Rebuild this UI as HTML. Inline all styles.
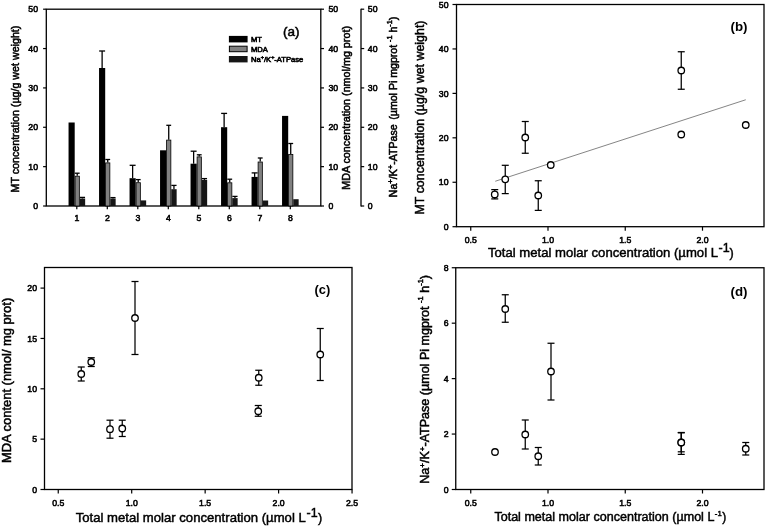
<!DOCTYPE html>
<html lang="en"><head><meta charset="utf-8"><title>Figure</title>
<style>
html,body{margin:0;padding:0;background:#fff;}
svg{display:block;font-family:'Liberation Sans', Arial, Helvetica, sans-serif;}
</style></head>
<body>
<svg width="767" height="527" viewBox="0 0 767 527">
<rect width="767" height="527" fill="#fff"/>
<g id="panel-a">
<rect x="46.3" y="9.2" width="274.50" height="196.80" fill="none" stroke="#000" stroke-width="1.3"/>
<line x1="43.10" y1="206.00" x2="46.30" y2="206.00" stroke="#000" stroke-width="1.2"/>
<text x="38.00" y="209.20" font-size="8.7" text-anchor="end" stroke="#000" stroke-width="0.55" textLength="4.84" lengthAdjust="spacingAndGlyphs">0</text>
<line x1="320.80" y1="206.00" x2="324.00" y2="206.00" stroke="#000" stroke-width="1.2"/>
<text x="328.40" y="209.20" font-size="8.7" text-anchor="start" stroke="#000" stroke-width="0.55" textLength="4.84" lengthAdjust="spacingAndGlyphs">0</text>
<line x1="361.00" y1="206.00" x2="364.20" y2="206.00" stroke="#000" stroke-width="1.2"/>
<text x="367.80" y="209.20" font-size="8.7" text-anchor="start" stroke="#000" stroke-width="0.55" textLength="4.84" lengthAdjust="spacingAndGlyphs">0</text>
<line x1="43.10" y1="166.64" x2="46.30" y2="166.64" stroke="#000" stroke-width="1.2"/>
<text x="38.00" y="169.84" font-size="8.7" text-anchor="end" stroke="#000" stroke-width="0.55" textLength="9.68" lengthAdjust="spacingAndGlyphs">10</text>
<line x1="320.80" y1="166.64" x2="324.00" y2="166.64" stroke="#000" stroke-width="1.2"/>
<text x="328.40" y="169.84" font-size="8.7" text-anchor="start" stroke="#000" stroke-width="0.55" textLength="9.68" lengthAdjust="spacingAndGlyphs">10</text>
<line x1="361.00" y1="166.64" x2="364.20" y2="166.64" stroke="#000" stroke-width="1.2"/>
<text x="367.80" y="169.84" font-size="8.7" text-anchor="start" stroke="#000" stroke-width="0.55" textLength="9.68" lengthAdjust="spacingAndGlyphs">10</text>
<line x1="43.10" y1="127.28" x2="46.30" y2="127.28" stroke="#000" stroke-width="1.2"/>
<text x="38.00" y="130.48" font-size="8.7" text-anchor="end" stroke="#000" stroke-width="0.55" textLength="9.68" lengthAdjust="spacingAndGlyphs">20</text>
<line x1="320.80" y1="127.28" x2="324.00" y2="127.28" stroke="#000" stroke-width="1.2"/>
<text x="328.40" y="130.48" font-size="8.7" text-anchor="start" stroke="#000" stroke-width="0.55" textLength="9.68" lengthAdjust="spacingAndGlyphs">20</text>
<line x1="361.00" y1="127.28" x2="364.20" y2="127.28" stroke="#000" stroke-width="1.2"/>
<text x="367.80" y="130.48" font-size="8.7" text-anchor="start" stroke="#000" stroke-width="0.55" textLength="9.68" lengthAdjust="spacingAndGlyphs">20</text>
<line x1="43.10" y1="87.92" x2="46.30" y2="87.92" stroke="#000" stroke-width="1.2"/>
<text x="38.00" y="91.12" font-size="8.7" text-anchor="end" stroke="#000" stroke-width="0.55" textLength="9.68" lengthAdjust="spacingAndGlyphs">30</text>
<line x1="320.80" y1="87.92" x2="324.00" y2="87.92" stroke="#000" stroke-width="1.2"/>
<text x="328.40" y="91.12" font-size="8.7" text-anchor="start" stroke="#000" stroke-width="0.55" textLength="9.68" lengthAdjust="spacingAndGlyphs">30</text>
<line x1="361.00" y1="87.92" x2="364.20" y2="87.92" stroke="#000" stroke-width="1.2"/>
<text x="367.80" y="91.12" font-size="8.7" text-anchor="start" stroke="#000" stroke-width="0.55" textLength="9.68" lengthAdjust="spacingAndGlyphs">30</text>
<line x1="43.10" y1="48.56" x2="46.30" y2="48.56" stroke="#000" stroke-width="1.2"/>
<text x="38.00" y="51.76" font-size="8.7" text-anchor="end" stroke="#000" stroke-width="0.55" textLength="9.68" lengthAdjust="spacingAndGlyphs">40</text>
<line x1="320.80" y1="48.56" x2="324.00" y2="48.56" stroke="#000" stroke-width="1.2"/>
<text x="328.40" y="51.76" font-size="8.7" text-anchor="start" stroke="#000" stroke-width="0.55" textLength="9.68" lengthAdjust="spacingAndGlyphs">40</text>
<line x1="361.00" y1="48.56" x2="364.20" y2="48.56" stroke="#000" stroke-width="1.2"/>
<text x="367.80" y="51.76" font-size="8.7" text-anchor="start" stroke="#000" stroke-width="0.55" textLength="9.68" lengthAdjust="spacingAndGlyphs">40</text>
<line x1="43.10" y1="9.20" x2="46.30" y2="9.20" stroke="#000" stroke-width="1.2"/>
<text x="38.00" y="12.40" font-size="8.7" text-anchor="end" stroke="#000" stroke-width="0.55" textLength="9.68" lengthAdjust="spacingAndGlyphs">50</text>
<line x1="320.80" y1="9.20" x2="324.00" y2="9.20" stroke="#000" stroke-width="1.2"/>
<text x="328.40" y="12.40" font-size="8.7" text-anchor="start" stroke="#000" stroke-width="0.55" textLength="9.68" lengthAdjust="spacingAndGlyphs">50</text>
<line x1="361.00" y1="9.20" x2="364.20" y2="9.20" stroke="#000" stroke-width="1.2"/>
<text x="367.80" y="12.40" font-size="8.7" text-anchor="start" stroke="#000" stroke-width="0.55" textLength="9.68" lengthAdjust="spacingAndGlyphs">50</text>
<line x1="361.00" y1="8.70" x2="361.00" y2="206.50" stroke="#000" stroke-width="1.3"/>
<line x1="76.80" y1="206.00" x2="76.80" y2="209.20" stroke="#000" stroke-width="1.2"/>
<text x="76.80" y="221.20" font-size="8.7" text-anchor="middle" stroke="#000" stroke-width="0.55" textLength="4.84" lengthAdjust="spacingAndGlyphs">1</text>
<line x1="107.30" y1="206.00" x2="107.30" y2="209.20" stroke="#000" stroke-width="1.2"/>
<text x="107.30" y="221.20" font-size="8.7" text-anchor="middle" stroke="#000" stroke-width="0.55" textLength="4.84" lengthAdjust="spacingAndGlyphs">2</text>
<line x1="137.80" y1="206.00" x2="137.80" y2="209.20" stroke="#000" stroke-width="1.2"/>
<text x="137.80" y="221.20" font-size="8.7" text-anchor="middle" stroke="#000" stroke-width="0.55" textLength="4.84" lengthAdjust="spacingAndGlyphs">3</text>
<line x1="168.30" y1="206.00" x2="168.30" y2="209.20" stroke="#000" stroke-width="1.2"/>
<text x="168.30" y="221.20" font-size="8.7" text-anchor="middle" stroke="#000" stroke-width="0.55" textLength="4.84" lengthAdjust="spacingAndGlyphs">4</text>
<line x1="198.80" y1="206.00" x2="198.80" y2="209.20" stroke="#000" stroke-width="1.2"/>
<text x="198.80" y="221.20" font-size="8.7" text-anchor="middle" stroke="#000" stroke-width="0.55" textLength="4.84" lengthAdjust="spacingAndGlyphs">5</text>
<line x1="229.30" y1="206.00" x2="229.30" y2="209.20" stroke="#000" stroke-width="1.2"/>
<text x="229.30" y="221.20" font-size="8.7" text-anchor="middle" stroke="#000" stroke-width="0.55" textLength="4.84" lengthAdjust="spacingAndGlyphs">6</text>
<line x1="259.80" y1="206.00" x2="259.80" y2="209.20" stroke="#000" stroke-width="1.2"/>
<text x="259.80" y="221.20" font-size="8.7" text-anchor="middle" stroke="#000" stroke-width="0.55" textLength="4.84" lengthAdjust="spacingAndGlyphs">7</text>
<line x1="290.30" y1="206.00" x2="290.30" y2="209.20" stroke="#000" stroke-width="1.2"/>
<text x="290.30" y="221.20" font-size="8.7" text-anchor="middle" stroke="#000" stroke-width="0.55" textLength="4.84" lengthAdjust="spacingAndGlyphs">8</text>
<rect x="68.55" y="122.50" width="6.15" height="83.50" fill="#000"/>
<line x1="77.23" y1="173.20" x2="77.23" y2="175.80" stroke="#000" stroke-width="1.3"/>
<line x1="74.80" y1="173.20" x2="79.65" y2="173.20" stroke="#000" stroke-width="1.3"/>
<rect x="75.10" y="176.20" width="4.25" height="29.80" fill="#808080" stroke="#000" stroke-width="0.8"/>
<line x1="82.45" y1="197.40" x2="82.45" y2="198.50" stroke="#000" stroke-width="1.3"/>
<line x1="79.85" y1="197.40" x2="85.05" y2="197.40" stroke="#000" stroke-width="1.3"/>
<rect x="79.75" y="198.50" width="5.40" height="7.50" fill="#161616"/>
<line x1="102.12" y1="51.00" x2="102.12" y2="68.00" stroke="#000" stroke-width="1.3"/>
<line x1="99.15" y1="51.00" x2="105.10" y2="51.00" stroke="#000" stroke-width="1.3"/>
<rect x="99.05" y="68.00" width="6.15" height="138.00" fill="#000"/>
<line x1="107.73" y1="159.50" x2="107.73" y2="162.50" stroke="#000" stroke-width="1.3"/>
<line x1="105.30" y1="159.50" x2="110.15" y2="159.50" stroke="#000" stroke-width="1.3"/>
<rect x="105.60" y="162.90" width="4.25" height="43.10" fill="#808080" stroke="#000" stroke-width="0.8"/>
<line x1="112.95" y1="197.60" x2="112.95" y2="198.50" stroke="#000" stroke-width="1.3"/>
<line x1="110.35" y1="197.60" x2="115.55" y2="197.60" stroke="#000" stroke-width="1.3"/>
<rect x="110.25" y="198.50" width="5.40" height="7.50" fill="#161616"/>
<line x1="132.62" y1="165.30" x2="132.62" y2="178.20" stroke="#000" stroke-width="1.3"/>
<line x1="129.65" y1="165.30" x2="135.60" y2="165.30" stroke="#000" stroke-width="1.3"/>
<rect x="129.55" y="178.20" width="6.15" height="27.80" fill="#000"/>
<line x1="138.23" y1="179.60" x2="138.23" y2="182.30" stroke="#000" stroke-width="1.3"/>
<line x1="135.80" y1="179.60" x2="140.65" y2="179.60" stroke="#000" stroke-width="1.3"/>
<rect x="136.10" y="182.70" width="4.25" height="23.30" fill="#808080" stroke="#000" stroke-width="0.8"/>
<rect x="140.75" y="200.40" width="5.40" height="5.60" fill="#161616"/>
<rect x="160.05" y="150.30" width="6.15" height="55.70" fill="#000"/>
<line x1="168.73" y1="125.30" x2="168.73" y2="139.70" stroke="#000" stroke-width="1.3"/>
<line x1="166.30" y1="125.30" x2="171.15" y2="125.30" stroke="#000" stroke-width="1.3"/>
<rect x="166.60" y="140.10" width="4.25" height="65.90" fill="#808080" stroke="#000" stroke-width="0.8"/>
<line x1="173.95" y1="185.40" x2="173.95" y2="189.20" stroke="#000" stroke-width="1.3"/>
<line x1="171.35" y1="185.40" x2="176.55" y2="185.40" stroke="#000" stroke-width="1.3"/>
<rect x="171.25" y="189.20" width="5.40" height="16.80" fill="#161616"/>
<line x1="193.62" y1="151.20" x2="193.62" y2="163.70" stroke="#000" stroke-width="1.3"/>
<line x1="190.65" y1="151.20" x2="196.60" y2="151.20" stroke="#000" stroke-width="1.3"/>
<rect x="190.55" y="163.70" width="6.15" height="42.30" fill="#000"/>
<line x1="199.23" y1="154.80" x2="199.23" y2="156.50" stroke="#000" stroke-width="1.3"/>
<line x1="196.80" y1="154.80" x2="201.65" y2="154.80" stroke="#000" stroke-width="1.3"/>
<rect x="197.10" y="156.90" width="4.25" height="49.10" fill="#808080" stroke="#000" stroke-width="0.8"/>
<line x1="204.45" y1="178.60" x2="204.45" y2="179.90" stroke="#000" stroke-width="1.3"/>
<line x1="201.85" y1="178.60" x2="207.05" y2="178.60" stroke="#000" stroke-width="1.3"/>
<rect x="201.75" y="179.90" width="5.40" height="26.10" fill="#161616"/>
<line x1="224.12" y1="113.40" x2="224.12" y2="127.20" stroke="#000" stroke-width="1.3"/>
<line x1="221.15" y1="113.40" x2="227.10" y2="113.40" stroke="#000" stroke-width="1.3"/>
<rect x="221.05" y="127.20" width="6.15" height="78.80" fill="#000"/>
<line x1="229.73" y1="179.20" x2="229.73" y2="182.40" stroke="#000" stroke-width="1.3"/>
<line x1="227.30" y1="179.20" x2="232.15" y2="179.20" stroke="#000" stroke-width="1.3"/>
<rect x="227.60" y="182.80" width="4.25" height="23.20" fill="#808080" stroke="#000" stroke-width="0.8"/>
<line x1="234.95" y1="196.40" x2="234.95" y2="198.10" stroke="#000" stroke-width="1.3"/>
<line x1="232.35" y1="196.40" x2="237.55" y2="196.40" stroke="#000" stroke-width="1.3"/>
<rect x="232.25" y="198.10" width="5.40" height="7.90" fill="#161616"/>
<line x1="254.62" y1="172.90" x2="254.62" y2="176.90" stroke="#000" stroke-width="1.3"/>
<line x1="251.65" y1="172.90" x2="257.60" y2="172.90" stroke="#000" stroke-width="1.3"/>
<rect x="251.55" y="176.90" width="6.15" height="29.10" fill="#000"/>
<line x1="260.22" y1="158.00" x2="260.22" y2="161.60" stroke="#000" stroke-width="1.3"/>
<line x1="257.80" y1="158.00" x2="262.65" y2="158.00" stroke="#000" stroke-width="1.3"/>
<rect x="258.10" y="162.00" width="4.25" height="44.00" fill="#808080" stroke="#000" stroke-width="0.8"/>
<rect x="262.75" y="200.50" width="5.40" height="5.50" fill="#161616"/>
<rect x="282.05" y="115.90" width="6.15" height="90.10" fill="#000"/>
<line x1="290.72" y1="143.50" x2="290.72" y2="154.00" stroke="#000" stroke-width="1.3"/>
<line x1="288.30" y1="143.50" x2="293.15" y2="143.50" stroke="#000" stroke-width="1.3"/>
<rect x="288.60" y="154.40" width="4.25" height="51.60" fill="#808080" stroke="#000" stroke-width="0.8"/>
<rect x="293.25" y="199.20" width="5.40" height="6.80" fill="#161616"/>
<rect x="228.90" y="35.90" width="18.70" height="6.50" fill="#000"/>
<rect x="229.40" y="46.20" width="17.70" height="5.50" fill="#808080" stroke="#000" stroke-width="1.0"/>
<rect x="228.90" y="56.00" width="18.70" height="6.40" fill="#161616"/>
<text x="251.00" y="42.30" font-size="7.6" text-anchor="start" stroke="#000" stroke-width="0.6">MT</text>
<text x="251.00" y="51.90" font-size="7.6" text-anchor="start" stroke="#000" stroke-width="0.6">MDA</text>
<text x="251.00" y="61.90" font-size="7.6" text-anchor="start" stroke="#000" stroke-width="0.6">Na<tspan font-size="5.5" dy="-2.5">+</tspan><tspan dy="2.5">/K</tspan><tspan font-size="5.5" dy="-2.5">+</tspan><tspan dy="2.5">-ATPase</tspan></text>
<text x="283.00" y="35.50" font-size="12.5" text-anchor="start" stroke="#000" stroke-width="0.5" textLength="16.50" lengthAdjust="spacingAndGlyphs">(a)</text>
<text x="18.60" y="192.50" font-size="11.2" text-anchor="start" stroke="#000" stroke-width="0.55" transform="rotate(-90 18.60 192.50)" textLength="166.90" lengthAdjust="spacingAndGlyphs">MT concentration (µg/g wet weight)</text>
<text x="349.80" y="189.80" font-size="11.2" text-anchor="start" stroke="#000" stroke-width="0.55" transform="rotate(-90 349.80 189.80)" textLength="163.80" lengthAdjust="spacingAndGlyphs">MDA concentration (nmol/mg prot)</text>
<text x="397.00" y="197.20" font-size="11.0" text-anchor="start" stroke="#000" stroke-width="0.55" transform="rotate(-90 397.00 197.20)" textLength="72.80" lengthAdjust="spacingAndGlyphs">Na<tspan font-size="8" dy="-4.2">+</tspan><tspan dy="4.2">/K</tspan><tspan font-size="8" dy="-4.2">+</tspan><tspan dy="4.2">-ATPase</tspan></text>
<text x="397.00" y="119.70" font-size="11.0" text-anchor="start" stroke="#000" stroke-width="0.55" transform="rotate(-90 397.00 119.70)" textLength="103.00" lengthAdjust="spacingAndGlyphs">(µmol Pi mgprot <tspan font-size="7.5" dy="-5.2">-1</tspan><tspan dy="5.2"> h</tspan><tspan font-size="7.5" dy="-5.2">-1</tspan><tspan dy="5.2">)</tspan></text>
</g>
<g id="panel-b">
<rect x="456.5" y="4.5" width="307.50" height="222.20" fill="none" stroke="#000" stroke-width="1.3"/>
<line x1="452.50" y1="226.70" x2="456.50" y2="226.70" stroke="#000" stroke-width="1.2"/>
<text x="448.50" y="229.90" font-size="8.7" text-anchor="end" stroke="#000" stroke-width="0.55" textLength="4.84" lengthAdjust="spacingAndGlyphs">0</text>
<line x1="452.50" y1="182.26" x2="456.50" y2="182.26" stroke="#000" stroke-width="1.2"/>
<text x="448.50" y="185.46" font-size="8.7" text-anchor="end" stroke="#000" stroke-width="0.55" textLength="9.68" lengthAdjust="spacingAndGlyphs">10</text>
<line x1="452.50" y1="137.82" x2="456.50" y2="137.82" stroke="#000" stroke-width="1.2"/>
<text x="448.50" y="141.02" font-size="8.7" text-anchor="end" stroke="#000" stroke-width="0.55" textLength="9.68" lengthAdjust="spacingAndGlyphs">20</text>
<line x1="452.50" y1="93.38" x2="456.50" y2="93.38" stroke="#000" stroke-width="1.2"/>
<text x="448.50" y="96.58" font-size="8.7" text-anchor="end" stroke="#000" stroke-width="0.55" textLength="9.68" lengthAdjust="spacingAndGlyphs">30</text>
<line x1="452.50" y1="48.94" x2="456.50" y2="48.94" stroke="#000" stroke-width="1.2"/>
<text x="448.50" y="52.14" font-size="8.7" text-anchor="end" stroke="#000" stroke-width="0.55" textLength="9.68" lengthAdjust="spacingAndGlyphs">40</text>
<line x1="452.50" y1="4.50" x2="456.50" y2="4.50" stroke="#000" stroke-width="1.2"/>
<text x="448.50" y="7.70" font-size="8.7" text-anchor="end" stroke="#000" stroke-width="0.55" textLength="9.68" lengthAdjust="spacingAndGlyphs">50</text>
<line x1="470.75" y1="226.70" x2="470.75" y2="230.70" stroke="#000" stroke-width="1.2"/>
<text x="470.75" y="242.50" font-size="8.7" text-anchor="middle" stroke="#000" stroke-width="0.55" textLength="12.09" lengthAdjust="spacingAndGlyphs">0.5</text>
<line x1="548.00" y1="226.70" x2="548.00" y2="230.70" stroke="#000" stroke-width="1.2"/>
<text x="548.00" y="242.50" font-size="8.7" text-anchor="middle" stroke="#000" stroke-width="0.55" textLength="12.09" lengthAdjust="spacingAndGlyphs">1.0</text>
<line x1="625.25" y1="226.70" x2="625.25" y2="230.70" stroke="#000" stroke-width="1.2"/>
<text x="625.25" y="242.50" font-size="8.7" text-anchor="middle" stroke="#000" stroke-width="0.55" textLength="12.09" lengthAdjust="spacingAndGlyphs">1.5</text>
<line x1="702.50" y1="226.70" x2="702.50" y2="230.70" stroke="#000" stroke-width="1.2"/>
<text x="702.50" y="242.50" font-size="8.7" text-anchor="middle" stroke="#000" stroke-width="0.55" textLength="12.09" lengthAdjust="spacingAndGlyphs">2.0</text>
<line x1="495.25" y1="181.25" x2="745.75" y2="99.75" stroke="#777" stroke-width="0.9"/>
<line x1="494.75" y1="189.60" x2="494.75" y2="198.90" stroke="#000" stroke-width="1.25"/>
<line x1="491.25" y1="189.60" x2="498.25" y2="189.60" stroke="#000" stroke-width="1.25"/>
<line x1="491.25" y1="198.90" x2="498.25" y2="198.90" stroke="#000" stroke-width="1.25"/>
<circle cx="494.75" cy="194.40" r="3.25" fill="#fff" stroke="#000" stroke-width="1.3"/>
<line x1="505.25" y1="165.30" x2="505.25" y2="193.60" stroke="#000" stroke-width="1.25"/>
<line x1="501.75" y1="165.30" x2="508.75" y2="165.30" stroke="#000" stroke-width="1.25"/>
<line x1="501.75" y1="193.60" x2="508.75" y2="193.60" stroke="#000" stroke-width="1.25"/>
<circle cx="505.25" cy="179.30" r="3.25" fill="#fff" stroke="#000" stroke-width="1.3"/>
<line x1="525.25" y1="121.50" x2="525.25" y2="153.25" stroke="#000" stroke-width="1.25"/>
<line x1="521.75" y1="121.50" x2="528.75" y2="121.50" stroke="#000" stroke-width="1.25"/>
<line x1="521.75" y1="153.25" x2="528.75" y2="153.25" stroke="#000" stroke-width="1.25"/>
<circle cx="525.25" cy="137.50" r="3.25" fill="#fff" stroke="#000" stroke-width="1.3"/>
<line x1="538.25" y1="180.75" x2="538.25" y2="210.40" stroke="#000" stroke-width="1.25"/>
<line x1="534.75" y1="180.75" x2="541.75" y2="180.75" stroke="#000" stroke-width="1.25"/>
<line x1="534.75" y1="210.40" x2="541.75" y2="210.40" stroke="#000" stroke-width="1.25"/>
<circle cx="538.25" cy="195.50" r="3.25" fill="#fff" stroke="#000" stroke-width="1.3"/>
<circle cx="550.75" cy="165.00" r="3.25" fill="#fff" stroke="#000" stroke-width="1.3"/>
<line x1="681.25" y1="51.75" x2="681.25" y2="89.25" stroke="#000" stroke-width="1.25"/>
<line x1="677.75" y1="51.75" x2="684.75" y2="51.75" stroke="#000" stroke-width="1.25"/>
<line x1="677.75" y1="89.25" x2="684.75" y2="89.25" stroke="#000" stroke-width="1.25"/>
<circle cx="681.25" cy="70.50" r="3.25" fill="#fff" stroke="#000" stroke-width="1.3"/>
<circle cx="681.25" cy="134.50" r="3.25" fill="#fff" stroke="#000" stroke-width="1.3"/>
<circle cx="745.75" cy="125.00" r="3.25" fill="#fff" stroke="#000" stroke-width="1.3"/>
<text x="730.50" y="30.50" font-size="12.5" text-anchor="start" font-weight="bold" textLength="17.00" lengthAdjust="spacingAndGlyphs">(b)</text>
<text x="423.70" y="214.50" font-size="12.7" text-anchor="start" stroke="#000" stroke-width="0.5" transform="rotate(-90 423.70 214.50)" textLength="194.00" lengthAdjust="spacingAndGlyphs">MT concentration (µg/g wet weight)</text>
<text x="488.00" y="256.80" font-size="12.6" text-anchor="start" stroke="#000" stroke-width="0.45" textLength="230.00" lengthAdjust="spacingAndGlyphs">Total metal molar concentration (µmol L</text>
<text x="718.60" y="252.30" font-size="12" text-anchor="start" stroke="#000" stroke-width="0.45" textLength="11.09" lengthAdjust="spacingAndGlyphs">-1</text>
<text x="729.60" y="256.80" font-size="12.6" text-anchor="start" stroke="#000" stroke-width="0.45">)</text>
</g>
<g id="panel-c">
<rect x="44.5" y="267.5" width="307.50" height="222.00" fill="none" stroke="#000" stroke-width="1.3"/>
<line x1="40.50" y1="489.50" x2="44.50" y2="489.50" stroke="#000" stroke-width="1.2"/>
<text x="37.00" y="492.70" font-size="8.7" text-anchor="end" stroke="#000" stroke-width="0.55" textLength="4.84" lengthAdjust="spacingAndGlyphs">0</text>
<line x1="40.50" y1="439.15" x2="44.50" y2="439.15" stroke="#000" stroke-width="1.2"/>
<text x="37.00" y="442.35" font-size="8.7" text-anchor="end" stroke="#000" stroke-width="0.55" textLength="4.84" lengthAdjust="spacingAndGlyphs">5</text>
<line x1="40.50" y1="388.80" x2="44.50" y2="388.80" stroke="#000" stroke-width="1.2"/>
<text x="37.00" y="392.00" font-size="8.7" text-anchor="end" stroke="#000" stroke-width="0.55" textLength="9.68" lengthAdjust="spacingAndGlyphs">10</text>
<line x1="40.50" y1="338.45" x2="44.50" y2="338.45" stroke="#000" stroke-width="1.2"/>
<text x="37.00" y="341.65" font-size="8.7" text-anchor="end" stroke="#000" stroke-width="0.55" textLength="9.68" lengthAdjust="spacingAndGlyphs">15</text>
<line x1="40.50" y1="288.10" x2="44.50" y2="288.10" stroke="#000" stroke-width="1.2"/>
<text x="37.00" y="291.30" font-size="8.7" text-anchor="end" stroke="#000" stroke-width="0.55" textLength="9.68" lengthAdjust="spacingAndGlyphs">20</text>
<line x1="58.25" y1="489.50" x2="58.25" y2="493.50" stroke="#000" stroke-width="1.2"/>
<text x="58.25" y="505.50" font-size="8.7" text-anchor="middle" stroke="#000" stroke-width="0.55" textLength="12.09" lengthAdjust="spacingAndGlyphs">0.5</text>
<line x1="131.70" y1="489.50" x2="131.70" y2="493.50" stroke="#000" stroke-width="1.2"/>
<text x="131.70" y="505.50" font-size="8.7" text-anchor="middle" stroke="#000" stroke-width="0.55" textLength="12.09" lengthAdjust="spacingAndGlyphs">1.0</text>
<line x1="205.15" y1="489.50" x2="205.15" y2="493.50" stroke="#000" stroke-width="1.2"/>
<text x="205.15" y="505.50" font-size="8.7" text-anchor="middle" stroke="#000" stroke-width="0.55" textLength="12.09" lengthAdjust="spacingAndGlyphs">1.5</text>
<line x1="278.60" y1="489.50" x2="278.60" y2="493.50" stroke="#000" stroke-width="1.2"/>
<text x="278.60" y="505.50" font-size="8.7" text-anchor="middle" stroke="#000" stroke-width="0.55" textLength="12.09" lengthAdjust="spacingAndGlyphs">2.0</text>
<line x1="352.05" y1="489.50" x2="352.05" y2="493.50" stroke="#000" stroke-width="1.2"/>
<text x="352.05" y="505.50" font-size="8.7" text-anchor="middle" stroke="#000" stroke-width="0.55" textLength="12.09" lengthAdjust="spacingAndGlyphs">2.5</text>
<line x1="81.25" y1="367.00" x2="81.25" y2="381.00" stroke="#000" stroke-width="1.25"/>
<line x1="77.75" y1="367.00" x2="84.75" y2="367.00" stroke="#000" stroke-width="1.25"/>
<line x1="77.75" y1="381.00" x2="84.75" y2="381.00" stroke="#000" stroke-width="1.25"/>
<circle cx="81.25" cy="374.00" r="3.25" fill="#fff" stroke="#000" stroke-width="1.3"/>
<line x1="91.25" y1="357.75" x2="91.25" y2="366.50" stroke="#000" stroke-width="1.25"/>
<line x1="87.75" y1="357.75" x2="94.75" y2="357.75" stroke="#000" stroke-width="1.25"/>
<line x1="87.75" y1="366.50" x2="94.75" y2="366.50" stroke="#000" stroke-width="1.25"/>
<circle cx="91.25" cy="362.00" r="3.25" fill="#fff" stroke="#000" stroke-width="1.3"/>
<line x1="110.00" y1="420.20" x2="110.00" y2="438.20" stroke="#000" stroke-width="1.25"/>
<line x1="106.50" y1="420.20" x2="113.50" y2="420.20" stroke="#000" stroke-width="1.25"/>
<line x1="106.50" y1="438.20" x2="113.50" y2="438.20" stroke="#000" stroke-width="1.25"/>
<circle cx="110.00" cy="429.20" r="3.25" fill="#fff" stroke="#000" stroke-width="1.3"/>
<line x1="122.25" y1="420.20" x2="122.25" y2="436.50" stroke="#000" stroke-width="1.25"/>
<line x1="118.75" y1="420.20" x2="125.75" y2="420.20" stroke="#000" stroke-width="1.25"/>
<line x1="118.75" y1="436.50" x2="125.75" y2="436.50" stroke="#000" stroke-width="1.25"/>
<circle cx="122.25" cy="428.50" r="3.25" fill="#fff" stroke="#000" stroke-width="1.3"/>
<line x1="135.00" y1="281.50" x2="135.00" y2="354.50" stroke="#000" stroke-width="1.25"/>
<line x1="131.50" y1="281.50" x2="138.50" y2="281.50" stroke="#000" stroke-width="1.25"/>
<line x1="131.50" y1="354.50" x2="138.50" y2="354.50" stroke="#000" stroke-width="1.25"/>
<circle cx="135.00" cy="318.00" r="3.25" fill="#fff" stroke="#000" stroke-width="1.3"/>
<line x1="258.75" y1="370.25" x2="258.75" y2="385.25" stroke="#000" stroke-width="1.25"/>
<line x1="255.25" y1="370.25" x2="262.25" y2="370.25" stroke="#000" stroke-width="1.25"/>
<line x1="255.25" y1="385.25" x2="262.25" y2="385.25" stroke="#000" stroke-width="1.25"/>
<circle cx="258.75" cy="377.75" r="3.25" fill="#fff" stroke="#000" stroke-width="1.3"/>
<line x1="258.25" y1="405.50" x2="258.25" y2="416.25" stroke="#000" stroke-width="1.25"/>
<line x1="254.75" y1="405.50" x2="261.75" y2="405.50" stroke="#000" stroke-width="1.25"/>
<line x1="254.75" y1="416.25" x2="261.75" y2="416.25" stroke="#000" stroke-width="1.25"/>
<circle cx="258.25" cy="411.25" r="3.25" fill="#fff" stroke="#000" stroke-width="1.3"/>
<line x1="320.25" y1="328.50" x2="320.25" y2="380.50" stroke="#000" stroke-width="1.25"/>
<line x1="316.75" y1="328.50" x2="323.75" y2="328.50" stroke="#000" stroke-width="1.25"/>
<line x1="316.75" y1="380.50" x2="323.75" y2="380.50" stroke="#000" stroke-width="1.25"/>
<circle cx="320.25" cy="354.50" r="3.25" fill="#fff" stroke="#000" stroke-width="1.3"/>
<text x="314.50" y="293.50" font-size="12.5" text-anchor="start" font-weight="bold" textLength="15.75" lengthAdjust="spacingAndGlyphs">(c)</text>
<text x="11.00" y="463.00" font-size="12.8" text-anchor="start" stroke="#000" stroke-width="0.5" transform="rotate(-90 11.00 463.00)" textLength="165.20" lengthAdjust="spacingAndGlyphs">MDA content (nmol/ mg prot)</text>
<text x="75.75" y="521.70" font-size="12.6" text-anchor="start" stroke="#000" stroke-width="0.45" textLength="230.00" lengthAdjust="spacingAndGlyphs">Total metal molar concentration (µmol L</text>
<text x="306.60" y="517.20" font-size="12" text-anchor="start" stroke="#000" stroke-width="0.45" textLength="11.09" lengthAdjust="spacingAndGlyphs">-1</text>
<text x="317.90" y="521.70" font-size="12.6" text-anchor="start" stroke="#000" stroke-width="0.45">)</text>
</g>
<g id="panel-d">
<rect x="455.75" y="267.75" width="308.25" height="221.75" fill="none" stroke="#000" stroke-width="1.3"/>
<line x1="451.75" y1="489.50" x2="455.75" y2="489.50" stroke="#000" stroke-width="1.2"/>
<text x="448.50" y="492.70" font-size="8.7" text-anchor="end" stroke="#000" stroke-width="0.55" textLength="4.84" lengthAdjust="spacingAndGlyphs">0</text>
<line x1="451.75" y1="434.06" x2="455.75" y2="434.06" stroke="#000" stroke-width="1.2"/>
<text x="448.50" y="437.26" font-size="8.7" text-anchor="end" stroke="#000" stroke-width="0.55" textLength="4.84" lengthAdjust="spacingAndGlyphs">2</text>
<line x1="451.75" y1="378.62" x2="455.75" y2="378.62" stroke="#000" stroke-width="1.2"/>
<text x="448.50" y="381.82" font-size="8.7" text-anchor="end" stroke="#000" stroke-width="0.55" textLength="4.84" lengthAdjust="spacingAndGlyphs">4</text>
<line x1="451.75" y1="323.18" x2="455.75" y2="323.18" stroke="#000" stroke-width="1.2"/>
<text x="448.50" y="326.38" font-size="8.7" text-anchor="end" stroke="#000" stroke-width="0.55" textLength="4.84" lengthAdjust="spacingAndGlyphs">6</text>
<line x1="451.75" y1="267.74" x2="455.75" y2="267.74" stroke="#000" stroke-width="1.2"/>
<text x="448.50" y="270.94" font-size="8.7" text-anchor="end" stroke="#000" stroke-width="0.55" textLength="4.84" lengthAdjust="spacingAndGlyphs">8</text>
<line x1="470.75" y1="489.50" x2="470.75" y2="493.50" stroke="#000" stroke-width="1.2"/>
<text x="470.75" y="505.50" font-size="8.7" text-anchor="middle" stroke="#000" stroke-width="0.55" textLength="12.09" lengthAdjust="spacingAndGlyphs">0.5</text>
<line x1="548.00" y1="489.50" x2="548.00" y2="493.50" stroke="#000" stroke-width="1.2"/>
<text x="548.00" y="505.50" font-size="8.7" text-anchor="middle" stroke="#000" stroke-width="0.55" textLength="12.09" lengthAdjust="spacingAndGlyphs">1.0</text>
<line x1="625.25" y1="489.50" x2="625.25" y2="493.50" stroke="#000" stroke-width="1.2"/>
<text x="625.25" y="505.50" font-size="8.7" text-anchor="middle" stroke="#000" stroke-width="0.55" textLength="12.09" lengthAdjust="spacingAndGlyphs">1.5</text>
<line x1="702.50" y1="489.50" x2="702.50" y2="493.50" stroke="#000" stroke-width="1.2"/>
<text x="702.50" y="505.50" font-size="8.7" text-anchor="middle" stroke="#000" stroke-width="0.55" textLength="12.09" lengthAdjust="spacingAndGlyphs">2.0</text>
<circle cx="495.00" cy="452.00" r="3.25" fill="#fff" stroke="#000" stroke-width="1.3"/>
<line x1="505.25" y1="294.75" x2="505.25" y2="322.25" stroke="#000" stroke-width="1.25"/>
<line x1="501.75" y1="294.75" x2="508.75" y2="294.75" stroke="#000" stroke-width="1.25"/>
<line x1="501.75" y1="322.25" x2="508.75" y2="322.25" stroke="#000" stroke-width="1.25"/>
<circle cx="505.25" cy="309.00" r="3.25" fill="#fff" stroke="#000" stroke-width="1.3"/>
<line x1="525.25" y1="420.00" x2="525.25" y2="449.00" stroke="#000" stroke-width="1.25"/>
<line x1="521.75" y1="420.00" x2="528.75" y2="420.00" stroke="#000" stroke-width="1.25"/>
<line x1="521.75" y1="449.00" x2="528.75" y2="449.00" stroke="#000" stroke-width="1.25"/>
<circle cx="525.25" cy="434.50" r="3.25" fill="#fff" stroke="#000" stroke-width="1.3"/>
<line x1="538.25" y1="447.50" x2="538.25" y2="465.00" stroke="#000" stroke-width="1.25"/>
<line x1="534.75" y1="447.50" x2="541.75" y2="447.50" stroke="#000" stroke-width="1.25"/>
<line x1="534.75" y1="465.00" x2="541.75" y2="465.00" stroke="#000" stroke-width="1.25"/>
<circle cx="538.25" cy="456.25" r="3.25" fill="#fff" stroke="#000" stroke-width="1.3"/>
<line x1="551.00" y1="343.25" x2="551.00" y2="400.00" stroke="#000" stroke-width="1.25"/>
<line x1="547.50" y1="343.25" x2="554.50" y2="343.25" stroke="#000" stroke-width="1.25"/>
<line x1="547.50" y1="400.00" x2="554.50" y2="400.00" stroke="#000" stroke-width="1.25"/>
<circle cx="551.00" cy="371.50" r="3.25" fill="#fff" stroke="#000" stroke-width="1.3"/>
<line x1="681.25" y1="432.50" x2="681.25" y2="451.80" stroke="#000" stroke-width="1.25"/>
<line x1="677.75" y1="432.50" x2="684.75" y2="432.50" stroke="#000" stroke-width="1.25"/>
<line x1="677.75" y1="451.80" x2="684.75" y2="451.80" stroke="#000" stroke-width="1.25"/>
<circle cx="681.25" cy="442.50" r="3.25" fill="#fff" stroke="#000" stroke-width="1.3"/>
<line x1="681.25" y1="432.80" x2="681.25" y2="454.40" stroke="#000" stroke-width="1.25"/>
<line x1="677.75" y1="432.80" x2="684.75" y2="432.80" stroke="#000" stroke-width="1.25"/>
<line x1="677.75" y1="454.40" x2="684.75" y2="454.40" stroke="#000" stroke-width="1.25"/>
<circle cx="681.25" cy="442.50" r="3.25" fill="#fff" stroke="#000" stroke-width="1.3"/>
<line x1="745.75" y1="442.50" x2="745.75" y2="455.00" stroke="#000" stroke-width="1.25"/>
<line x1="742.25" y1="442.50" x2="749.25" y2="442.50" stroke="#000" stroke-width="1.25"/>
<line x1="742.25" y1="455.00" x2="749.25" y2="455.00" stroke="#000" stroke-width="1.25"/>
<circle cx="745.75" cy="448.75" r="3.25" fill="#fff" stroke="#000" stroke-width="1.3"/>
<text x="730.50" y="296.00" font-size="12.5" text-anchor="start" font-weight="bold" textLength="17.00" lengthAdjust="spacingAndGlyphs">(d)</text>
<text x="429.00" y="483.75" font-size="12.6" text-anchor="start" stroke="#000" stroke-width="0.5" transform="rotate(-90 429.00 483.75)" textLength="208.75" lengthAdjust="spacingAndGlyphs">Na<tspan font-size="8" dy="-4.5">+</tspan><tspan dy="4.5">/K</tspan><tspan font-size="8" dy="-4.5">+</tspan><tspan dy="4.5">-ATPase</tspan> (µmol Pi mgprot <tspan font-size="7.5" dy="-6">-1</tspan><tspan dy="6"> h</tspan><tspan font-size="7.5" dy="-6">-1</tspan><tspan dy="6">)</tspan></text>
<text x="494.40" y="520.60" font-size="12.0" text-anchor="start" stroke="#000" stroke-width="0.45" textLength="220.00" lengthAdjust="spacingAndGlyphs">Total metal molar concentration (µmol L</text>
<text x="714.80" y="516.20" font-size="7.5" text-anchor="start" stroke="#000" stroke-width="0.45" textLength="6.93" lengthAdjust="spacingAndGlyphs">-1</text>
<text x="722.20" y="520.60" font-size="12.0" text-anchor="start" stroke="#000" stroke-width="0.45">)</text>
</g>
</svg>
</body></html>
